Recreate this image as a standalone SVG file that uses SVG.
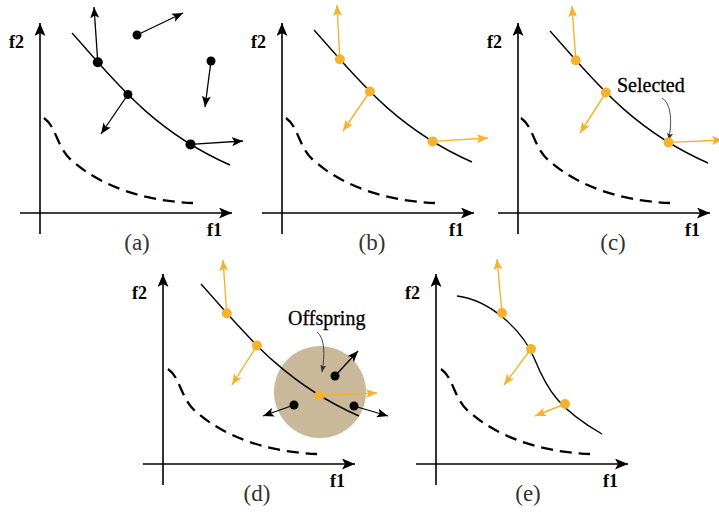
<svg xmlns="http://www.w3.org/2000/svg" xmlns:xlink="http://www.w3.org/1999/xlink" width="719" height="512" viewBox="0 0 719 512">
<style>
.ax{stroke:#000;stroke-width:1.6;fill:none}
.front{stroke:#000;stroke-width:1.4;fill:none}
.dash{stroke:#000;stroke-width:2.3;fill:none;stroke-dasharray:12 7}
.ab{stroke:#000;stroke-width:1.3;fill:none;marker-end:url(#hb)}
.ao{stroke:#F5B22E;stroke-width:1.4;fill:none;marker-end:url(#ho)}
.db{fill:#000}
.do{fill:#F5B22E}
.lbl{font-family:"Liberation Serif",serif;font-size:18px;font-weight:bold;fill:#000}
.cap{font-family:"Liberation Serif",serif;font-size:23px;fill:#333;text-anchor:middle}
.note{font-family:"Liberation Serif",serif;font-size:20px;fill:#000;stroke:#000;stroke-width:0.3}
.lead{stroke:#333;stroke-width:0.9;fill:none;marker-end:url(#hs)}
</style>
<defs>
<marker id="hb" markerUnits="userSpaceOnUse" markerWidth="12" markerHeight="10" refX="11" refY="4.5" orient="auto"><path d="M0,0 L11,4.5 L0,9 L2.5,4.5 z" fill="#000"/></marker>
<marker id="ho" markerUnits="userSpaceOnUse" markerWidth="12" markerHeight="10" refX="11" refY="4.5" orient="auto"><path d="M0,0 L11,4.5 L0,9 L2.5,4.5 z" fill="#F5B22E"/></marker>
<marker id="hs" markerUnits="userSpaceOnUse" markerWidth="8" markerHeight="7" refX="7" refY="3" orient="auto"><path d="M0,0 L7,3 L0,6 L1.5,3 z" fill="#333"/></marker>
<marker id="ha" markerUnits="userSpaceOnUse" markerWidth="14" markerHeight="12" refX="13" refY="5.5" orient="auto"><path d="M0,0 L13,5.5 L0,11 L3,5.5 z" fill="#000"/></marker>
<g id="axes">
<line x1="40" y1="234" x2="40" y2="23" class="ax" marker-end="url(#ha)"/>
<line x1="20" y1="213" x2="232" y2="213" class="ax" marker-end="url(#ha)"/>
<text x="9" y="48" class="lbl">f2</text>
<text x="207" y="236" class="lbl">f1</text>
</g>
<path id="front" d="M72,33 C110,75 150,130 230,165" class="front"/>
<path id="dashc" d="M44,118 C58,128 56,150 76,164 C100,184 140,201 193,203" class="dash"/>
</defs>

<g id="panel-a">
<use xlink:href="#axes"/>
<use xlink:href="#dashc"/>
<use xlink:href="#front"/>
<text x="137" y="250" class="cap">(a)</text>
</g>
<g id="panel-b">
<use xlink:href="#axes" transform="translate(242,0)"/>
<use xlink:href="#dashc" transform="translate(242,0)"/>
<use xlink:href="#front" transform="translate(242,-3)"/>
<text x="372" y="250" class="cap">(b)</text>
</g>
<g id="panel-c">
<use xlink:href="#axes" transform="translate(478,0)"/>
<use xlink:href="#dashc" transform="translate(477,0)"/>
<use xlink:href="#front" transform="translate(478,-2)"/>
<text x="613" y="250" class="cap">(c)</text>
<text x="617" y="92" class="note">Selected</text>
</g>
<g id="panel-d">
<circle cx="320" cy="392" r="46" fill="#C9B99A"/>
<use xlink:href="#axes" transform="translate(123,251)"/>
<use xlink:href="#dashc" transform="translate(124,251)"/>
<use xlink:href="#front" transform="translate(129,251)"/>
<text x="257" y="501" class="cap">(d)</text>
<text x="288" y="325" class="note">Offspring</text>
</g>
<g id="panel-e">
<use xlink:href="#axes" transform="translate(396,251)"/>
<use xlink:href="#dashc" transform="translate(397,251)"/>
<path d="M457,296 C490,300 523,330 535,360 C547,390 560,410 602,434" class="front"/>
<text x="528" y="501" class="cap">(e)</text>
</g>

<g id="connectors">
<line x1="97.8" y1="62.3" x2="94" y2="7" class="ab"/>
<line x1="137" y1="35" x2="183" y2="13" class="ab"/>
<line x1="211" y1="61" x2="205" y2="107" class="ab"/>
<line x1="127.9" y1="94.5" x2="101" y2="134" class="ab"/>
<line x1="190.5" y1="144.4" x2="243" y2="141" class="ab"/>
<line x1="339.8" y1="59.3" x2="337" y2="5" class="ao"/>
<line x1="369.9" y1="91.5" x2="343" y2="131" class="ao"/>
<line x1="432.5" y1="141.4" x2="488" y2="138" class="ao"/>
<line x1="575.8" y1="60.3" x2="572" y2="6" class="ao"/>
<line x1="605.9" y1="92.5" x2="580" y2="133" class="ao"/>
<line x1="668.5" y1="142.4" x2="723" y2="140" class="ao"/>
<path d="M662,98 C672,104 672,125 668.5,140" class="lead"/>
<line x1="226.8" y1="313.3" x2="223" y2="260" class="ao"/>
<line x1="256.9" y1="345.5" x2="232" y2="385" class="ao"/>
<line x1="319.5" y1="395.4" x2="377" y2="393" class="ao"/>
<line x1="335" y1="376" x2="358" y2="351" class="ab"/>
<line x1="294" y1="405" x2="263" y2="416" class="ab"/>
<line x1="354" y1="406" x2="388" y2="416" class="ab"/>
<path d="M317,332 C325,338 325,355 322,372" class="lead"/>
<line x1="502" y1="313" x2="497" y2="259" class="ao"/>
<line x1="531" y1="349" x2="504" y2="385" class="ao"/>
<line x1="565" y1="404" x2="535" y2="416" class="ao"/>
</g>

<g id="dots">
<circle cx="97.8" cy="62.3" r="5" class="db"/>
<circle cx="137" cy="35" r="4.5" class="db"/>
<circle cx="211" cy="61" r="4.5" class="db"/>
<circle cx="127.9" cy="94.5" r="4.5" class="db"/>
<circle cx="190.5" cy="144.4" r="5" class="db"/>
<circle cx="339.8" cy="59.3" r="5" class="do"/>
<circle cx="369.9" cy="91.5" r="5" class="do"/>
<circle cx="432.5" cy="141.4" r="5" class="do"/>
<circle cx="575.8" cy="60.3" r="5" class="do"/>
<circle cx="605.9" cy="92.5" r="5" class="do"/>
<circle cx="668.5" cy="142.4" r="5" class="do"/>
<circle cx="226.8" cy="313.3" r="5" class="do"/>
<circle cx="256.9" cy="345.5" r="5" class="do"/>
<circle cx="319.5" cy="395.4" r="5" class="do"/>
<circle cx="335" cy="376" r="4.5" class="db"/>
<circle cx="294" cy="405" r="4.5" class="db"/>
<circle cx="354" cy="406" r="4.5" class="db"/>
<circle cx="502" cy="313" r="5" class="do"/>
<circle cx="531" cy="349" r="5" class="do"/>
<circle cx="565" cy="404" r="5" class="do"/>
</g>
</svg>
